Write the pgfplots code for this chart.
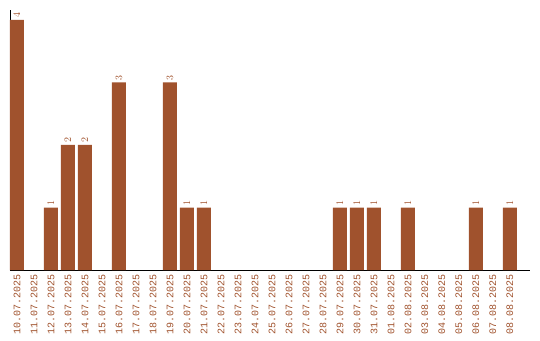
\documentclass[border=0pt]{standalone}
\usepackage{fontspec}
\setmonofont{Liberation Mono}
\usepackage{pgfplots}
\pgfplotsset{compat=1.18}
\definecolor{barbrown}{HTML}{A0522D}
\begin{document}
\begin{tikzpicture}
\begin{axis}[
  at={(0pt,0pt)}, anchor=south west,
  scale only axis,
  width=520pt, height=260pt,
  xmin=-0.41, xmax=30.18,
  ymin=0, ymax=4.16,
  axis lines=left,
  axis line style={-, black, line width=0.8pt},
  ytick=\empty,
  xtick={0,...,29},
  xticklabels={10.07.2025,11.07.2025,12.07.2025,13.07.2025,14.07.2025,15.07.2025,16.07.2025,17.07.2025,18.07.2025,19.07.2025,20.07.2025,21.07.2025,22.07.2025,23.07.2025,24.07.2025,25.07.2025,26.07.2025,27.07.2025,28.07.2025,29.07.2025,30.07.2025,31.07.2025,01.08.2025,02.08.2025,03.08.2025,04.08.2025,05.08.2025,06.08.2025,07.08.2025,08.08.2025},
  major tick length=0pt,
  xticklabel style={rotate=90, anchor=east, inner sep=0pt, xshift=-4pt,
    font=\ttfamily\fontsize{10}{12}\selectfont, text=barbrown},
  ybar, bar width=14pt,
  nodes near coords,
  every node near coord/.append style={rotate=90, anchor=west, inner sep=0pt, xshift=2pt,
    font=\ttfamily\fontsize{10}{12}\selectfont, text=barbrown},
  clip=false,
]
\addplot[draw=none, fill=barbrown, bar shift=0pt] coordinates {
  (0,4) (2,1) (3,2) (4,2) (6,3) (9,3) (10,1) (11,1)
  (19,1) (20,1) (21,1) (23,1) (27,1) (29,1)
};
\end{axis}
\pgfresetboundingbox
\path[use as bounding box] (-10pt,-70pt) rectangle (530pt,270pt);
\end{tikzpicture}
\end{document}
